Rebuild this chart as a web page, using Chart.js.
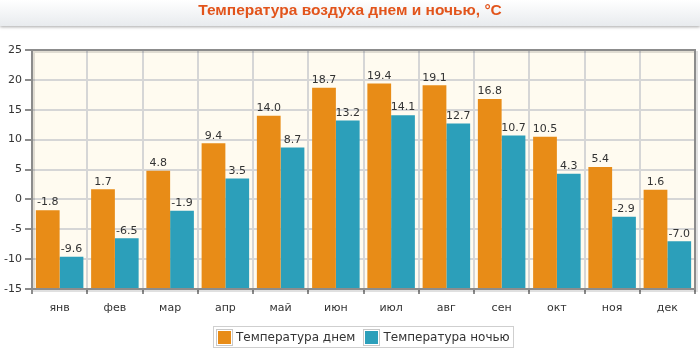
<!DOCTYPE html>
<html>
<head>
<meta charset="utf-8">
<script src="https://cdn.jsdelivr.net/npm/chart.js@4"></script>
<style>
    body { margin: 0; background: #fff; }
    .wrap { position: relative; width: 700px; height: 350px; overflow: hidden; }
    .wrap canvas { position: absolute; left: 0; top: 0; }
    .title-bar {
        position: absolute; left: 0; top: 0; width: 700px; height: 26px;
        background: linear-gradient(#ffffff, #e8ebee);
        box-shadow: 0 1px 3px rgba(0, 0, 0, 0.35);
        text-align: center; line-height: 24px; padding-top: 1px; box-sizing: border-box;
        font: bold 15.5px "Liberation Sans", Arial, sans-serif; color: #e2541b;
    }
    .legend {
        position: absolute; left: 213px; top: 326px; height: 20px;
        border: 1px solid #cfcfcf; padding: 0 3px 0 4px;
        font: 12px "DejaVu Sans", Verdana, sans-serif; color: #333;
        display: flex; align-items: center; white-space: nowrap;
    }
    .legend span.box {
        display: inline-block; width: 13px; height: 13px; margin-right: 5px;
        outline: 1px solid #c8c8c8; outline-offset: 1px;
    }
    .legend .item { display: flex; align-items: center; margin-right: 10px; }
    .legend .item:last-child { margin-right: 0; }
</style>
</head>
<body>
<div class="wrap">
    <canvas id="tempChart" width="700" height="350"></canvas>
    <div class="title-bar">Температура воздуха днем и ночью, °C</div>
    <div class="legend" id="legend"></div>
</div>
<script>
const months = ["янв", "фев", "мар", "апр", "май", "июн", "июл", "авг", "сен", "окт", "ноя", "дек"];
const dayTemps = [-1.8, 1.7, 4.8, 9.4, 14.0, 18.7, 19.4, 19.1, 16.8, 10.5, 5.4, 1.6];
const nightTemps = [-9.6, -6.5, -1.9, 3.5, 8.7, 13.2, 14.1, 12.7, 10.7, 4.3, -2.9, -7.0];
const seriesNames = ["Температура днем", "Температура ночью"];
const yMin = -15, yMax = 25, yStep = 5;

const colors = ["#e88c17", "#2c9fba"];
const textFont = '"DejaVu Sans", Verdana, sans-serif';

// cream plot background + frame
const plotFrame = {
    id: 'plotFrame',
    beforeDraw(chart) {
        const a = chart.chartArea, ctx = chart.ctx;
        ctx.save();
        ctx.fillStyle = '#fffbf0';
        ctx.fillRect(a.left, a.top, a.right - a.left, a.bottom - a.top);
        ctx.restore();
    },
    afterDraw(chart) {
        const a = chart.chartArea, ctx = chart.ctx;
        ctx.save();
        ctx.strokeStyle = 'rgba(0,0,0,0.12)';
        ctx.lineWidth = 2;
        ctx.strokeRect(a.left + 2, a.top + 2, a.right - a.left, a.bottom - a.top);
        ctx.strokeStyle = '#8c8c8c';
        ctx.lineWidth = 2;
        ctx.strokeRect(a.left, a.top, a.right - a.left, a.bottom - a.top);
        ctx.restore();
    }
};

// value labels above each bar
const valueLabels = {
    id: 'valueLabels',
    afterDatasetsDraw(chart) {
        const ctx = chart.ctx;
        ctx.save();
        ctx.font = '11px ' + textFont;
        ctx.fillStyle = '#333';
        ctx.textAlign = 'center';
        ctx.textBaseline = 'bottom';
        chart.data.datasets.forEach(function(ds, i) {
            chart.getDatasetMeta(i).data.forEach(function(bar, j) {
                ctx.fillText(ds.data[j].toFixed(1), bar.x, bar.y - 2);
            });
        });
        ctx.restore();
    }
};

new Chart(document.getElementById('tempChart'), {
    type: 'bar',
    data: {
        labels: months,
        datasets: [
            { label: seriesNames[0], data: dayTemps, backgroundColor: colors[0], base: yMin },
            { label: seriesNames[1], data: nightTemps, backgroundColor: colors[1], base: yMin }
        ]
    },
    options: {
        responsive: false,
        animation: false,
        categoryPercentage: 0.86,
        barPercentage: 1.0,
        layout: { padding: { top: 50, right: 5, bottom: 31, left: 0 } },
        plugins: {
            legend: { display: false },
            title: { display: false },
            tooltip: { enabled: false }
        },
        scales: {
            x: {
                afterFit(scale) { scale.height = 30; },
                grid: { color: '#d6d6d6', lineWidth: 2, tickColor: '#8c8c8c', tickLength: 5, offset: true },
                border: { display: false },
                ticks: { color: '#333', font: { family: textFont, size: 11 }, padding: 8 }
            },
            y: {
                min: yMin,
                max: yMax,
                afterFit(scale) { scale.width = 32; },
                grid: { color: '#d6d6d6', lineWidth: 2, tickColor: '#8c8c8c', tickLength: 7 },
                border: { display: false },
                ticks: { stepSize: yStep, color: '#333', font: { family: textFont, size: 11 }, padding: 3 }
            }
        }
    },
    plugins: [plotFrame, valueLabels]
});

// legend with a frame like the original
const legend = document.getElementById('legend');
seriesNames.forEach(function(name, i) {
    const item = document.createElement('div');
    item.className = 'item';
    item.innerHTML = "<span class='box' style='background:" + colors[i] + "'></span>" + name;
    legend.appendChild(item);
});
</script>
</body>
</html>
